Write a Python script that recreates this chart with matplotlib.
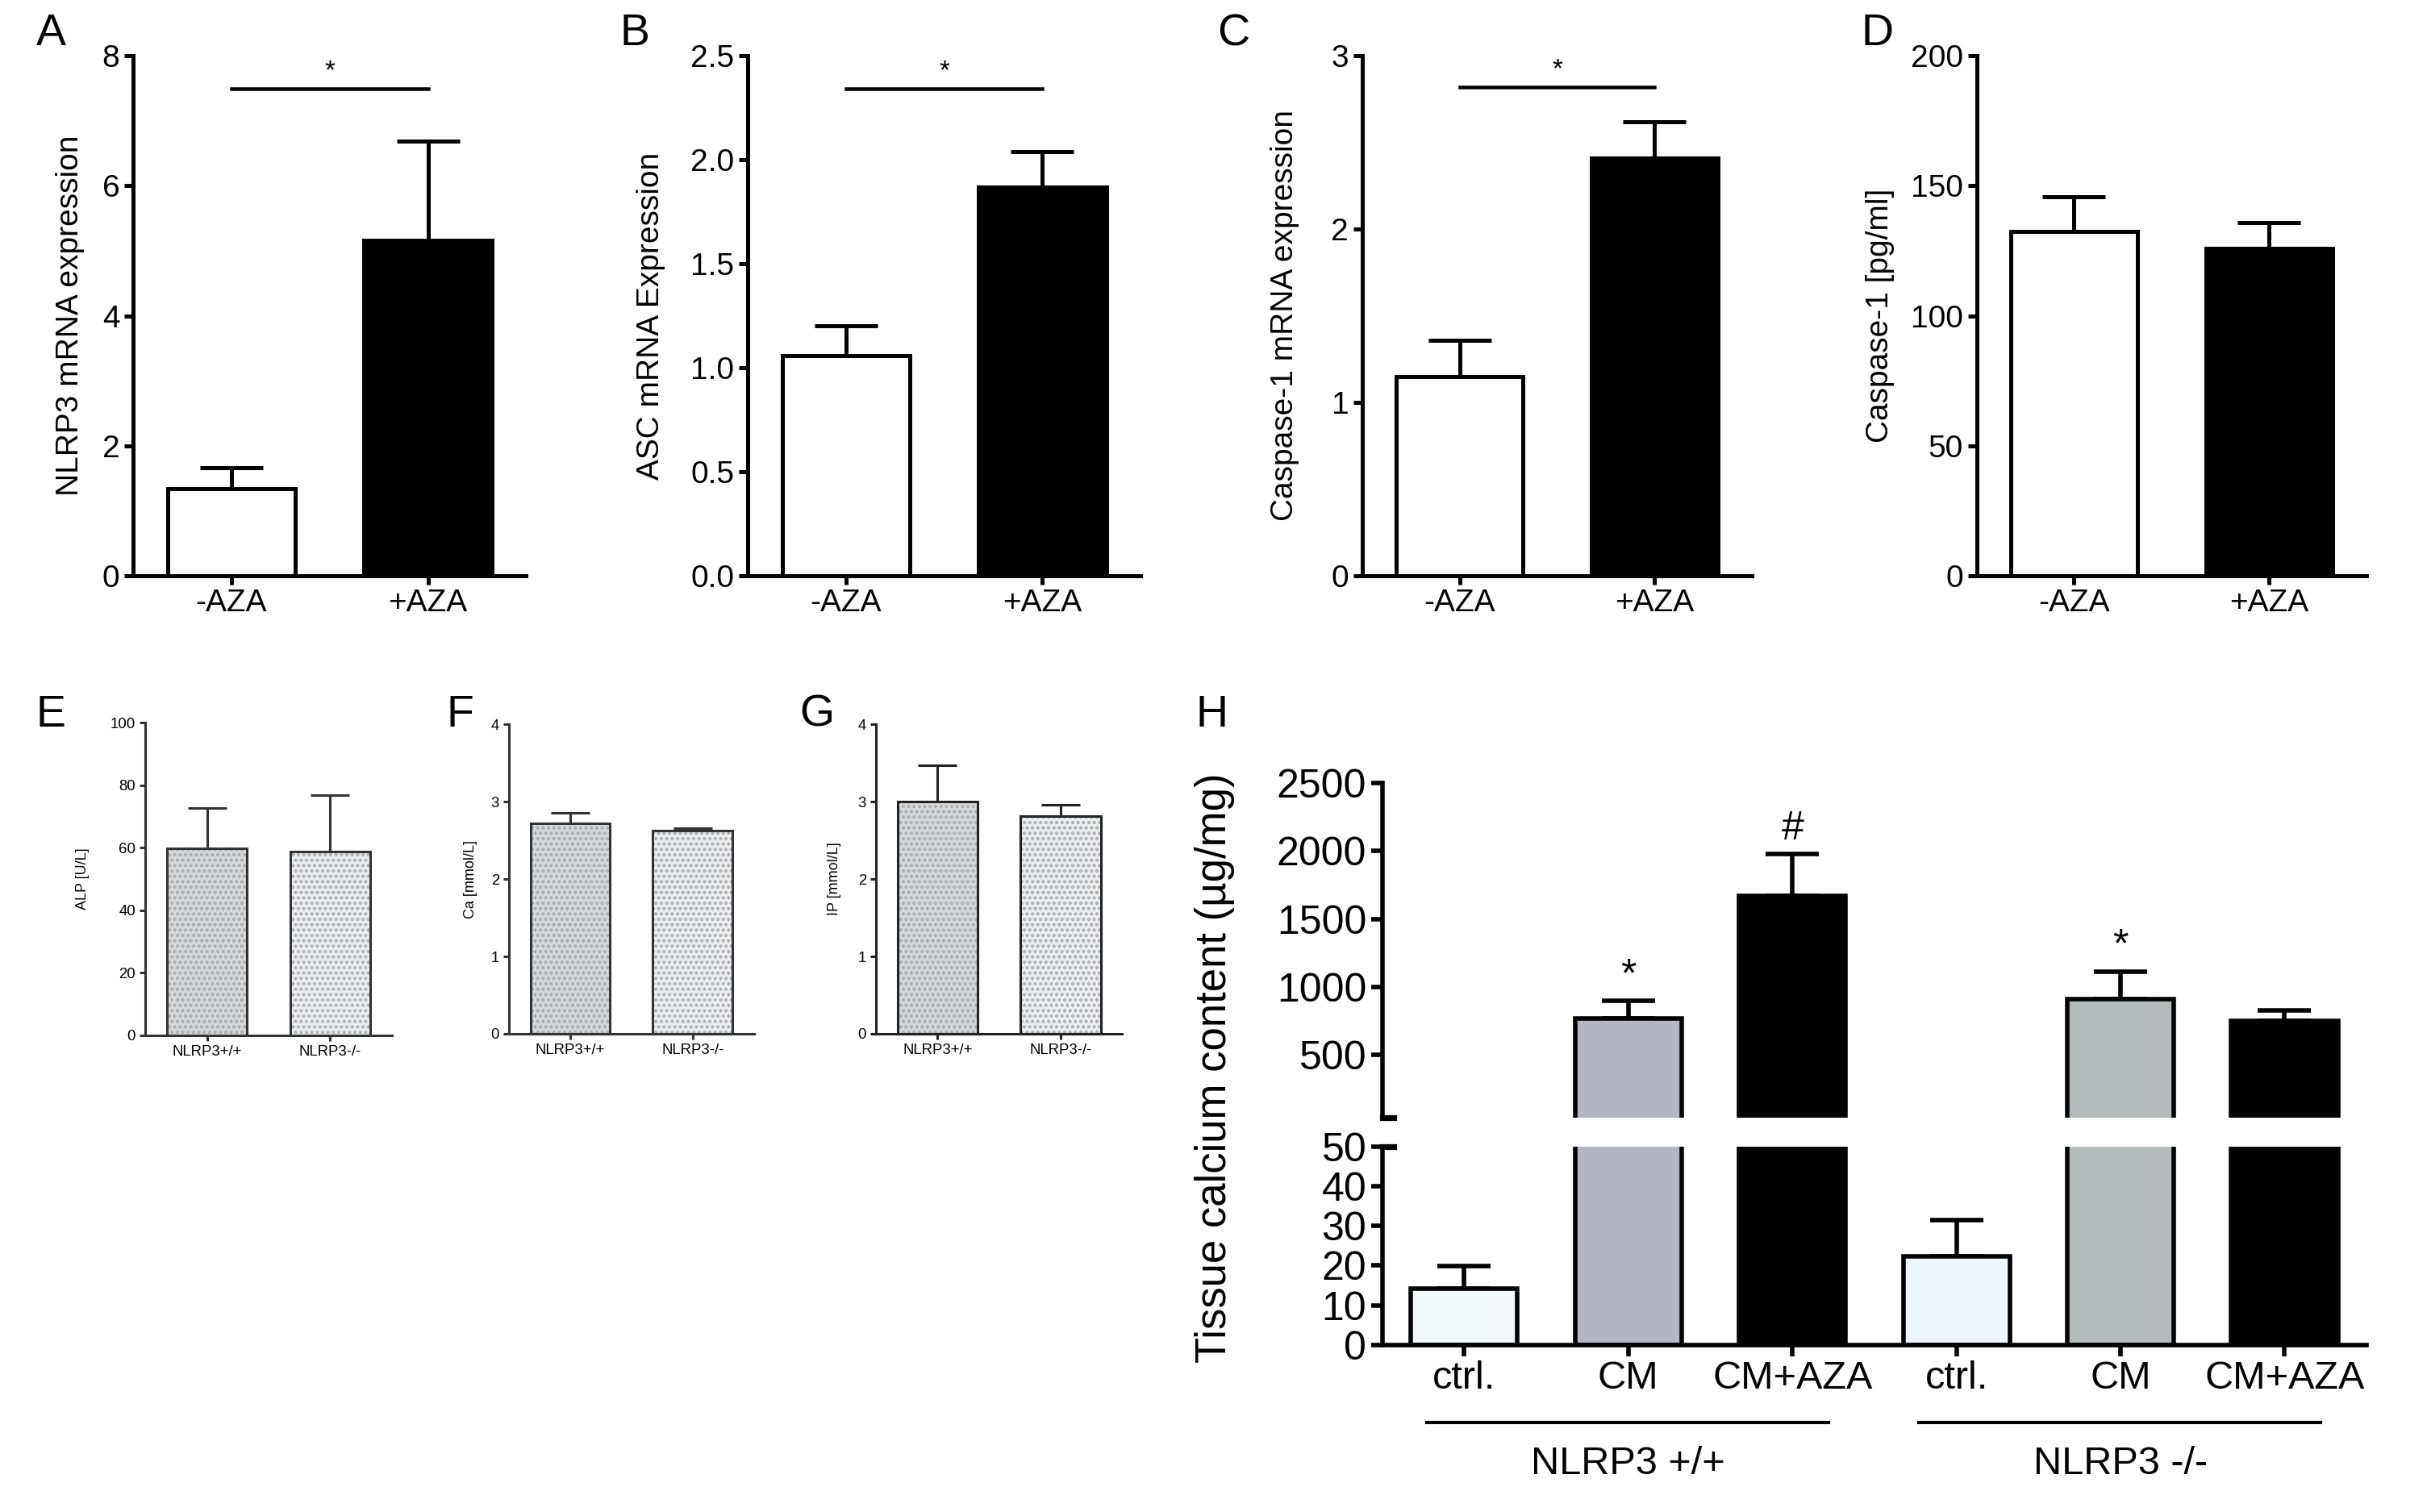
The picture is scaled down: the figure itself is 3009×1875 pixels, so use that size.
import matplotlib
matplotlib.use("Agg")
import matplotlib.pyplot as plt

plt.rcParams['font.family'] = ['Liberation Sans', 'DejaVu Sans']

# top row: AZA treatment
aza_groups = ["-AZA", "+AZA"]
nlrp3_mean = [1.34, 5.16]
nlrp3_sem = [0.32, 1.52]
asc_mean = [1.06, 1.87]
asc_sem = [0.14, 0.17]
casp1_mrna_mean = [1.15, 2.41]
casp1_mrna_sem = [0.21, 0.21]
casp1_pg_mean = [132.5, 126.0]
casp1_pg_sem = [13.3, 9.7]

# serum values by genotype
geno_groups = ["NLRP3+/+", "NLRP3-/-"]
alp_mean = [59.7, 58.9]
alp_sem = [13.1, 18.0]
ca_mean = [2.72, 2.63]
ca_sem = [0.14, 0.03]
ip_mean = [3.00, 2.81]
ip_sem = [0.47, 0.15]

# tissue calcium
tissue_labels = ["ctrl.", "CM", "CM+AZA", "ctrl.", "CM", "CM+AZA"]
tissue_mean = [14.2, 768, 1668, 22.4, 912, 751]
tissue_sem = [5.7, 128, 308, 9.1, 199, 77]
tissue_marks = ["", "*", "#", "", "*", ""]
genotype_labels = ["NLRP3 +/+", "NLRP3 -/-"]

W, H = 1568, 977  # layout measured on the reference at this scale


def rect(x0, x1, ytop, ybot):
    return [x0 / W, 1 - ybot / H, (x1 - x0) / W, (ybot - ytop) / H]


fig = plt.figure(figsize=(15.045, 9.375), dpi=200)


def bar_panel(r, cats, mean, sem, colors, ylim, yticks, ylabel, label_x,
              fmt=None, lw=1.8, fs=14, yfs=14, cap=14, sig=None,
              hatch=False, ecol="black"):
    ax = fig.add_axes(r)
    x = list(range(len(cats)))
    if hatch:
        ax.bar(x, mean, width=0.65, color=colors, edgecolor="#a9acb0",
               hatch=".....", linewidth=0, zorder=2)
        ax.bar(x, mean, width=0.65, fill=False, edgecolor=ecol, linewidth=lw, zorder=3)
    else:
        ax.bar(x, mean, width=0.65, color=colors, edgecolor=ecol, linewidth=lw, zorder=2)
    ax.errorbar(x, mean, yerr=[[0] * len(x), sem], fmt="none", ecolor=ecol,
                elinewidth=lw, capsize=cap, capthick=lw, zorder=1)
    ax.set_xlim(-0.5, 1.5)
    ax.set_ylim(*ylim)
    ax.set_yticks(yticks)
    if fmt:
        ax.set_yticklabels([fmt.format(t) for t in yticks])
    ax.set_xticks(x)
    ax.set_xticklabels(cats)
    for s in ["top", "right"]:
        ax.spines[s].set_visible(False)
    for s in ["left", "bottom"]:
        ax.spines[s].set_linewidth(lw)
        ax.spines[s].set_color(ecol)
    ax.tick_params(labelsize=fs, width=lw, length=lw * 2.2, color=ecol, pad=2)
    ax.set_ylabel(ylabel, fontsize=yfs)
    ax.yaxis.set_label_coords(label_x, 0.5)
    if sig is not None:
        y, dy = sig
        ax.plot([0, 1], [y, y], color="black", lw=lw * 0.9, clip_on=False)
        ax.text(0.5, y + dy, "*", ha="center", va="center", fontsize=fs * 0.85)
    return ax


wb = ["white", "black"]
bar_panel(rect(86, 340, 36, 372), aza_groups, nlrp3_mean, nlrp3_sem, wb,
          (0, 8), [0, 2, 4, 6, 8], "NLRP3 mRNA expression", -0.123, sig=(7.49, 0.27))
bar_panel(rect(483, 737, 36, 372), aza_groups, asc_mean, asc_sem, wb,
          (0, 2.5), [0, 0.5, 1.0, 1.5, 2.0, 2.5], "ASC mRNA Expression", -0.209,
          fmt="{:.1f}", sig=(2.34, 0.085))
bar_panel(rect(880, 1132, 36, 372), aza_groups, casp1_mrna_mean, casp1_mrna_sem, wb,
          (0, 3), [0, 1, 2, 3], "Caspase-1 mRNA expression", -0.16, sig=(2.82, 0.1))
bar_panel(rect(1277, 1529, 36, 372), aza_groups, casp1_pg_mean, casp1_pg_sem, wb,
          (0, 200), [0, 50, 100, 150, 200], "Caspase-1 [pg/ml]", -0.21)

dots = ["#d6d9dc", "#eceef0"]
bar_panel(rect(94, 253, 467, 669), geno_groups, alp_mean, alp_sem, dots,
          (0, 100), [0, 20, 40, 60, 80, 100], "ALP [U/L]", -0.226,
          lw=1.1, fs=6.7, yfs=6.5, cap=8.5, hatch=True, ecol="#333333")
bar_panel(rect(329, 487, 468, 668), geno_groups, ca_mean, ca_sem, dots,
          (0, 4), [0, 1, 2, 3, 4], "Ca [mmol/L]", -0.13,
          lw=1.1, fs=6.7, yfs=6.5, cap=8.5, hatch=True, ecol="#333333")
bar_panel(rect(566, 725, 468, 668), geno_groups, ip_mean, ip_sem, dots,
          (0, 4), [0, 1, 2, 3, 4], "IP [mmol/L]", -0.14,
          lw=1.1, fs=6.7, yfs=6.5, cap=8.5, hatch=True, ecol="#222222")

# panel H: broken y axis
tcol = ["#f3f8fb", "#b5b6c2", "black", "#eef6fa", "#b4bbba", "black"]
x6 = list(range(6))
top_lo = 40
ax_top = fig.add_axes(rect(893, 1529, 506, 722))
ax_bot = fig.add_axes(rect(893, 1529, 741, 869))
hlw = 2.0
for ax, lo in ((ax_top, top_lo), (ax_bot, 0)):
    ax.bar(x6, tissue_mean, width=0.65, color=tcol, edgecolor="black", linewidth=hlw, zorder=2)
    keep = [i for i in x6 if tissue_mean[i] > lo]
    ax.errorbar(keep, [tissue_mean[i] for i in keep],
                yerr=[[0] * len(keep), [tissue_sem[i] for i in keep]], fmt="none",
                ecolor="black", elinewidth=hlw, capsize=12, capthick=hlw, zorder=1)
    ax.set_xlim(-0.5, 5.5)
    for s in ["top", "right"]:
        ax.spines[s].set_visible(False)
    ax.spines["left"].set_linewidth(hlw)
    ax.spines["bottom"].set_linewidth(hlw)
    ax.tick_params(labelsize=18, width=hlw, length=5, pad=2)

ax_top.set_ylim(top_lo, 2500)
ax_top.set_yticks([500, 1000, 1500, 2000, 2500])
ax_top.spines["bottom"].set_visible(False)
ax_top.set_xticks([])
ax_top.plot([-0.5, -0.43], [top_lo, top_lo], color="black", lw=hlw * 1.3, clip_on=False)
for xi, m, v, e in zip(x6, tissue_marks, tissue_mean, tissue_sem):
    if m:
        ax_top.text(xi, v + e + 50, m, ha="center", va="bottom", fontsize=18)

ax_bot.set_ylim(0, 50)
ax_bot.set_yticks([0, 10, 20, 30, 40, 50])
ax_bot.plot([-0.5, -0.43], [50, 50], color="black", lw=hlw * 1.3, clip_on=False)
ax_bot.set_xticks(x6)
ax_bot.set_xticklabels(tissue_labels, fontsize=17.5)

for gi, g in enumerate(genotype_labels):
    x0, x1 = 3 * gi - 0.23, 3 * gi + 2.22
    ax_bot.plot([x0, x1], [-19.5, -19.5], color="black", lw=1.5, clip_on=False)
    ax_bot.text(3 * gi + 1, -30, g, ha="center", va="center", fontsize=17.5)

fig.text(785 / W, 1 - 690 / H, "Tissue calcium content (\u00b5g/mg)", rotation=90,
         ha="center", va="center", fontsize=19)

# panel letters
for lab, px, py in [("A", 33, 22), ("B", 410, 22), ("C", 797, 22), ("D", 1213, 22),
                    ("E", 33, 462), ("F", 297, 462), ("G", 528, 462), ("H", 783, 462)]:
    fig.text(px / W, 1 - py / H, lab, ha="center", va="center", fontsize=20)

fig.savefig("out.png", dpi=200, facecolor="white")
